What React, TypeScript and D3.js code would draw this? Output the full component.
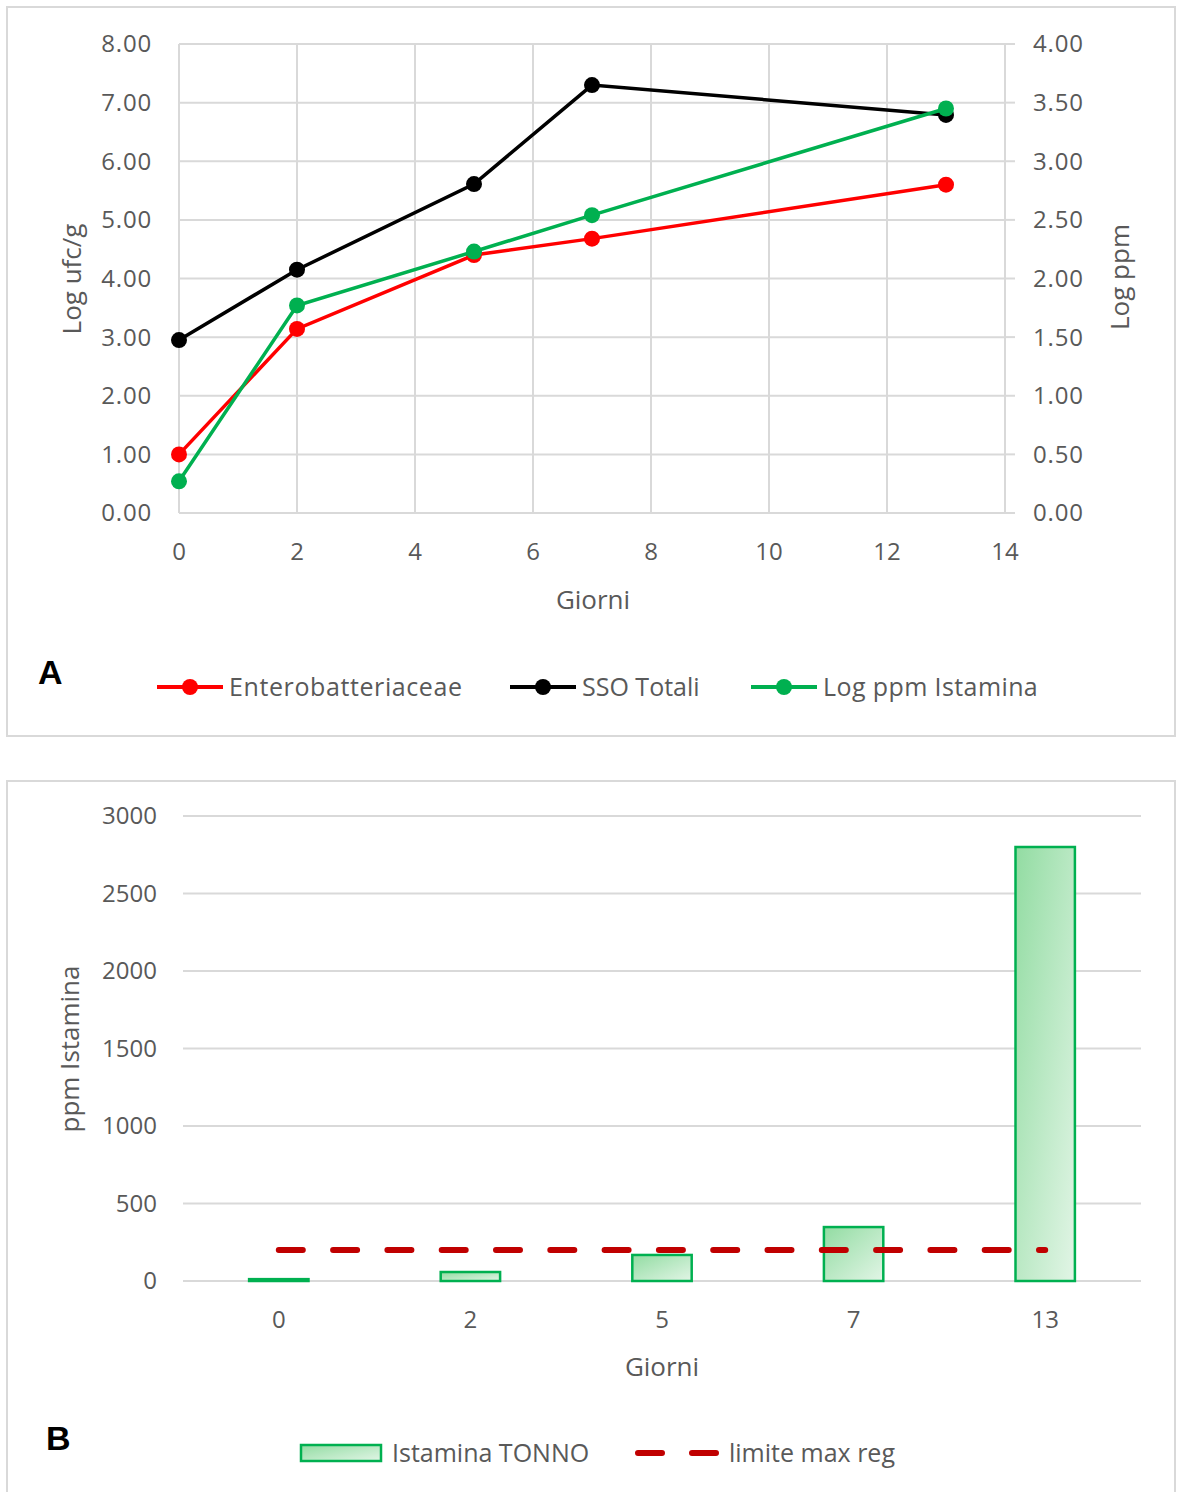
import React from "react";
import * as d3 from "d3";

const days = [0, 2, 5, 7, 13];
const entero = [1.0, 3.14, 4.4, 4.68, 5.6];
const sso = [2.95, 4.15, 5.61, 7.3, 6.79];
const logIst = [0.27, 1.77, 2.23, 2.54, 3.45];
const leftTicks = [0, 1, 2, 3, 4, 5, 6, 7, 8];
const rightTicks = [0, 0.5, 1, 1.5, 2, 2.5, 3, 3.5, 4];
const xTicks = [0, 2, 4, 6, 8, 10, 12, 14];

const barCats = ["0", "2", "5", "7", "13"];
const ppm = [12, 58, 168, 348, 2800];
const limit = 200;
const ppmTicks = [0, 500, 1000, 1500, 2000, 2500, 3000];

const FONT = "'Open Sans', 'Noto Sans', sans-serif";
const GRID = "#d9d9d9";
const TXT = "#595959";

export default function App() {
  const x = d3.scaleLinear().domain([0, 14]).range([179, 1005]);
  const yL = d3.scaleLinear().domain([0, 8]).range([513, 44]);
  const yR = d3.scaleLinear().domain([0, 4]).range([513, 44]);

  const mkLine = (vals: number[], ys: d3.ScaleLinear<number, number>) =>
    d3.line<number>().x((_, i) => x(days[i])).y((v) => ys(v))(vals) as string;

  const series = [
    { name: "Enterobatteriaceae", vals: entero, scale: yL, color: "#ff0000", lx: 157, ls: 0.6 },
    { name: "SSO Totali", vals: sso, scale: yL, color: "#000000", lx: 510, ls: 0 },
    { name: "Log ppm Istamina", vals: logIst, scale: yR, color: "#00b050", lx: 751, ls: 0.4 },
  ];

  const xb = d3.scaleBand<string>().domain(barCats).range([183, 1141]).padding(0);
  const yB = d3.scaleLinear().domain([0, 3000]).range([1281, 816]);
  const barW = xb.bandwidth() * 0.31;

  return (
    <svg
      width={1177}
      height={1492}
      style={{ position: "absolute", left: 0, top: 0, background: "#fff" }}
      fontFamily={FONT}
    >
      <defs>
        <linearGradient id="barGrad" x1="0" y1="0" x2="1" y2="1">
          <stop offset="0" stopColor="#92dca2" />
          <stop offset="1" stopColor="#e2f5e6" />
        </linearGradient>
      </defs>
      {/* Chart A frame */}
      <rect x={7} y={7} width={1168} height={729} fill="#fff" stroke={GRID} strokeWidth={2} />
      {leftTicks.map((t) => (
        <line key={"h" + t} x1={x(0)} x2={x(14)} y1={yL(t)} y2={yL(t)} stroke={GRID} strokeWidth={2} />
      ))}
      {xTicks.map((t) => (
        <line key={"v" + t} x1={x(t)} x2={x(t)} y1={yL(8)} y2={yL(0)} stroke={GRID} strokeWidth={2} />
      ))}
      {rightTicks.map((t) => (
        <line key={"rt" + t} x1={x(14)} x2={x(14) + 10} y1={yR(t)} y2={yR(t)} stroke={GRID} strokeWidth={2} />
      ))}
      {leftTicks.map((t) => (
        <text key={"lt" + t} x={152} y={yL(t)} dy="0.35em" textAnchor="end" fontSize={24} letterSpacing={0.8} fill={TXT}>
          {t.toFixed(2)}
        </text>
      ))}
      {rightTicks.map((t) => (
        <text key={"rl" + t} x={1033} y={yR(t)} dy="0.35em" textAnchor="start" fontSize={24} letterSpacing={0.8} fill={TXT}>
          {t.toFixed(2)}
        </text>
      ))}
      {xTicks.map((t) => (
        <text key={"xl" + t} x={x(t)} y={552} dy="0.35em" textAnchor="middle" fontSize={24} fill={TXT}>
          {t}
        </text>
      ))}
      <text x={593} y={600} dy="0.35em" textAnchor="middle" fontSize={26} fill={TXT}>
        Giorni
      </text>
      <text transform="translate(72,279) rotate(-90)" dy="0.35em" textAnchor="middle" fontSize={26} fill={TXT}>
        Log ufc/g
      </text>
      <text transform="translate(1120,277) rotate(-90)" dy="0.35em" textAnchor="middle" fontSize={26} fill={TXT}>
        Log ppm
      </text>
      {series.map((s) => (
        <g key={s.name}>
          <path d={mkLine(s.vals, s.scale)} fill="none" stroke={s.color} strokeWidth={3.5} />
          {s.vals.map((v, i) => (
            <circle key={i} cx={x(days[i])} cy={s.scale(v)} r={8} fill={s.color} />
          ))}
        </g>
      ))}
      {/* Legend A */}
      <text x={38} y={672} dy="0.35em" fontSize={34} fontWeight={900} fill="#000" fontFamily="'Liberation Sans', Arial, sans-serif">
        A
      </text>
      {series.map((s) => (
        <g key={"lg" + s.name}>
          <line x1={s.lx} x2={s.lx + 66} y1={687} y2={687} stroke={s.color} strokeWidth={4} />
          <circle cx={s.lx + 33} cy={687} r={8} fill={s.color} />
          <text x={s.lx + 72} y={687} dy="0.35em" fontSize={25} letterSpacing={s.ls} fill={TXT}>
            {s.name}
          </text>
        </g>
      ))}

      {/* Chart B frame */}
      <rect x={7} y={781} width={1168} height={720} fill="#fff" stroke={GRID} strokeWidth={2} />
      {ppmTicks.map((t) => (
        <g key={"b" + t}>
          <line x1={183} x2={1141} y1={yB(t)} y2={yB(t)} stroke={GRID} strokeWidth={2} />
          <text x={157} y={yB(t)} dy="0.35em" textAnchor="end" fontSize={24} fill={TXT}>
            {t}
          </text>
        </g>
      ))}
      {barCats.map((c, i) => {
        const cx = (xb(c) as number) + xb.bandwidth() / 2;
        return (
          <g key={"bar" + c}>
            <rect
              x={cx - barW / 2}
              y={yB(ppm[i])}
              width={barW}
              height={yB(0) - yB(ppm[i])}
              fill="url(#barGrad)"
              stroke="#00b050"
              strokeWidth={2.5}
            />
            <text x={cx} y={1320} dy="0.35em" textAnchor="middle" fontSize={24} fill={TXT}>
              {c}
            </text>
          </g>
        );
      })}
      <line
        x1={(xb(barCats[0]) as number) + xb.bandwidth() / 2}
        x2={(xb(barCats[barCats.length - 1]) as number) + xb.bandwidth() / 2}
        y1={yB(limit)}
        y2={yB(limit)}
        stroke="#c00000"
        strokeWidth={6}
        strokeLinecap="round"
        strokeDasharray="24 30.3"
      />
      <text x={662} y={1367} dy="0.35em" textAnchor="middle" fontSize={26} fill={TXT}>
        Giorni
      </text>
      <text transform="translate(70,1049) rotate(-90)" dy="0.35em" textAnchor="middle" fontSize={26} fill={TXT}>
        ppm Istamina
      </text>
      <text x={46} y={1438} dy="0.35em" fontSize={34} fontWeight={900} fill="#000" fontFamily="'Liberation Sans', Arial, sans-serif">
        B
      </text>
      <rect x={301} y={1445} width={80} height={16} fill="url(#barGrad)" stroke="#00b050" strokeWidth={2.5} />
      <text x={392} y={1453} dy="0.35em" fontSize={25} fill={TXT}>
        Istamina TONNO
      </text>
      <line x1={638} x2={716} y1={1453} y2={1453} stroke="#c00000" strokeWidth={6} strokeLinecap="round" strokeDasharray="24 30" />
      <text x={729} y={1453} dy="0.35em" fontSize={25} fill={TXT}>
        limite max reg
      </text>
    </svg>
  );
}
